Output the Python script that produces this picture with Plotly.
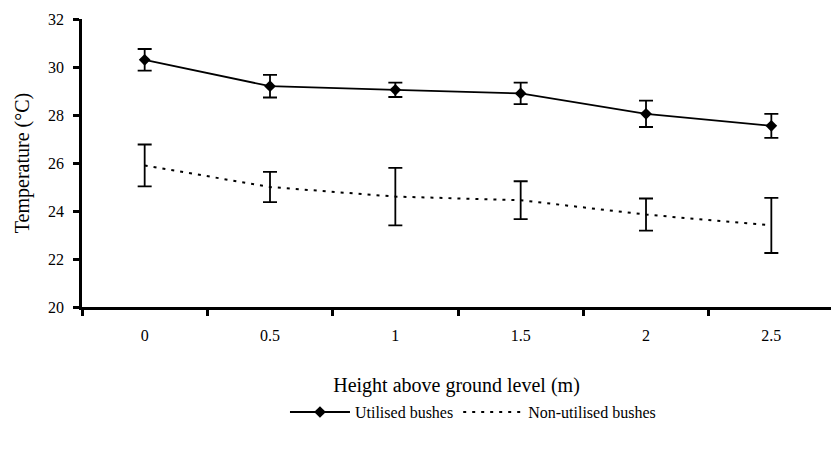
import plotly.graph_objects as go

heights = ["0", "0.5", "1", "1.5", "2", "2.5"]
utilised_mean = [30.3, 29.2, 29.05, 28.9, 28.05, 27.55]
utilised_err = [0.45, 0.47, 0.3, 0.45, 0.55, 0.5]
non_utilised_mean = [25.9, 25.0, 24.6, 24.45, 23.85, 23.4]
non_utilised_err = [0.87, 0.63, 1.2, 0.79, 0.67, 1.15]
y_ticks = [20, 22, 24, 26, 28, 30, 32]

FONT = "Liberation Serif, Times New Roman, serif"

fig = go.Figure()
fig.add_trace(go.Scatter(
    x=heights, y=utilised_mean, name="Utilised bushes", mode="lines+markers",
    line=dict(color="black", width=1.8),
    marker=dict(symbol="diamond", size=9, color="black"),
    error_y=dict(type="data", array=utilised_err, visible=True, color="black", thickness=1.8, width=7),
))
fig.add_trace(go.Scatter(
    x=heights, y=non_utilised_mean, name="Non-utilised bushes", mode="lines",
    line=dict(color="black", width=2, dash="3px,6px"),
    error_y=dict(type="data", array=non_utilised_err, visible=True, color="black", thickness=1.8, width=7),
))

fig.update_layout(
    width=831, height=454,
    margin=dict(l=82, r=0, t=19, b=147),
    paper_bgcolor="white", plot_bgcolor="white",
    font=dict(family=FONT, color="black", size=16),
    showlegend=True,
    legend=dict(orientation="h", x=0.522, xanchor="center", y=-0.365, yanchor="middle",
                font=dict(size=16, family=FONT), itemwidth=60, tracegroupgap=0,
                bgcolor="rgba(0,0,0,0)"),
)
fig.update_xaxes(
    type="category", range=[-0.5, 5.476], tickson="boundaries",
    showline=True, linecolor="black", linewidth=2.5,
    ticks="outside", ticklen=6, tickwidth=2.5, tickcolor="black",
    showgrid=False, zeroline=False,
    tickfont=dict(size=16, family=FONT), ticklabelstandoff=12,
    title=dict(text="Height above ground level (m)", font=dict(size=20, family=FONT), standoff=36),
)
fig.update_yaxes(
    range=[20, 32], tickvals=y_ticks,
    showline=True, linecolor="black", linewidth=2.5,
    ticks="outside", ticklen=6, tickwidth=2.5, tickcolor="black",
    showgrid=False, zeroline=False,
    tickfont=dict(size=16, family=FONT), ticklabelstandoff=6,
    title=dict(text="Temperature (°C)", font=dict(size=20, family=FONT), standoff=14),
)

fig.write_html("out.html")
